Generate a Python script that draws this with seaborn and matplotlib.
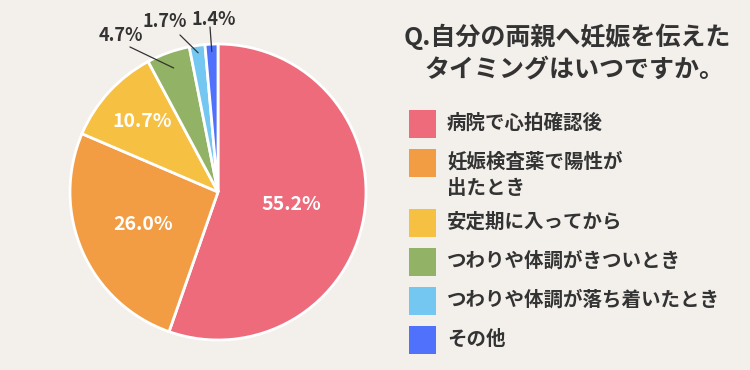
import numpy as np
import matplotlib
matplotlib.use("Agg")
import matplotlib.pyplot as plt
from matplotlib.patches import Rectangle
import seaborn as sns

# ---- data ----
categories = ["病院で心拍確認後", "妊娠検査薬で陽性が\n出たとき", "安定期に入ってから",
              "つわりや体調がきついとき", "つわりや体調が落ち着いたとき", "その他"]
values = [55.2, 26.0, 10.7, 4.7, 1.7, 1.4]
pct_labels = ["55.2%", "26.0%", "10.7%", "4.7%", "1.7%", "1.4%"]
colors = ["#ee6b7b", "#f29d44", "#f6c143", "#92b365", "#74c7f0", "#4f71fb"]
title_text = "Q.自分の両親へ妊娠を伝えた\nタイミングはいつですか。"

sns.set_theme(style="white")
plt.rcParams["font.family"] = ["Noto Sans CJK JP", "DejaVu Sans"]

BG = "#f3efeb"
TXT = "#333333"

W, H = 750, 370
fig = plt.figure(figsize=(W / 100, H / 100), dpi=100, facecolor=BG)

# pie axes (center 218,192 px; radius 148 px)
cx, cy, r = 218, 192, 148
ax = fig.add_axes([(cx - r) / W, (H - cy - r) / H, 2 * r / W, 2 * r / H])
ax.set_facecolor("none")
wedges, _ = ax.pie(values, colors=sns.color_palette(colors), startangle=90,
                   counterclock=False,
                   wedgeprops=dict(edgecolor="white", linewidth=2))
for w in wedges:
    w.set_clip_on(False)
ax.set_xlim(-1, 1)
ax.set_ylim(-1, 1)
ax.set_aspect("equal")
ax.axis("off")

# inside labels
inner_r = [0.5, 0.55, 0.7]
# outside labels: text positions and arrow anchor radius
outer_text = [(-0.655, 1.055), (-0.36, 1.155), (-0.03, 1.165)]
outer_line_start = [(-0.595, 0.98), (-0.257, 1.061), (-0.054, 1.115)]
anchor_r = [0.89, 0.95, 0.95]

for i, w in enumerate(wedges):
    mid = np.deg2rad((w.theta1 + w.theta2) / 2)
    if i < 3:
        rr = inner_r[i]
        ax.text(rr * np.cos(mid), rr * np.sin(mid), pct_labels[i], ha="center",
                va="center", color="white", fontsize=14, fontweight="bold")
    else:
        j = i - 3
        ar = anchor_r[j]
        end = (ar * np.cos(mid), ar * np.sin(mid))
        ax.plot([outer_line_start[j][0], end[0]], [outer_line_start[j][1], end[1]],
                color=TXT, lw=0.9, clip_on=False)
        ax.text(outer_text[j][0], outer_text[j][1], pct_labels[i], ha="center",
                va="center", color=TXT, fontsize=13, fontweight="bold")

# overlay axes in pixel coordinates for title and legend
ov = fig.add_axes([0, 0, 1, 1])
ov.set_xlim(0, W)
ov.set_ylim(H, 0)
ov.axis("off")
ov.set_facecolor("none")

ov.text(567, 37, title_text.split("\n")[0], ha="center", va="center",
        fontsize=18, fontweight="bold", color=TXT)
ov.text(575, 70, title_text.split("\n")[1], ha="center", va="center",
        fontsize=18, fontweight="bold", color=TXT)

y = 124
for i, (lab, col) in enumerate(zip(categories, colors)):
    ov.add_patch(Rectangle((409, y - 14), 27, 28, facecolor=col, edgecolor="none"))
    lines = lab.split("\n")
    for k, ln in enumerate(lines):
        ov.text(447, y - 1 + 26 * k, ln, ha="left", va="center", fontsize=14,
                fontweight="bold", color=TXT)
    y += 39 + 21 * (len(lines) - 1)

fig.savefig("out.png", dpi=100, facecolor=BG)
